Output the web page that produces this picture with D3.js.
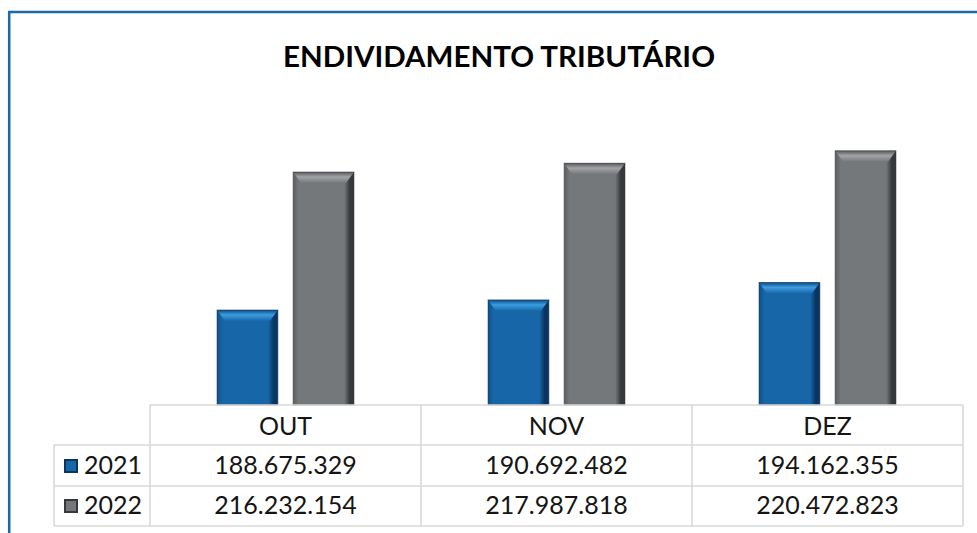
<!DOCTYPE html>
<html>
<head>
<meta charset="utf-8">
<script src="https://cdn.jsdelivr.net/npm/d3@7"></script>
<style>
  body { margin: 0; background: #fff; }
  svg { display: block; }
  text { font-family: Lato, "Open Sans", sans-serif; fill: #141414; }
</style>
</head>
<body>
<div id="chart"></div>
<script>
var months = ["OUT", "NOV", "DEZ"];
var series = ["2021", "2022"];
var values2021 = [188675329, 190692482, 194162355];
var values2022 = [216232154, 217987818, 220472823];
var labels2021 = ["188.675.329", "190.692.482", "194.162.355"];
var labels2022 = ["216.232.154", "217.987.818", "220.472.823"];

var width = 977, height = 533;

var svg = d3.select("#chart")
  .append("svg")
  .attr("width", width)
  .attr("height", height);

var defs = svg.append("defs");

// bevelled bar look: horizontal shading + lighter top facet
var colors = {
  "2021": {edgeL: "#0f4f88", body: "#1767a8", edgeR: "#0a3560", top: "#0e4a80", hi: "#3c9de2"},
  "2022": {edgeL: "#5c5f62", body: "#75787b", edgeR: "#36383b", top: "#55585a", hi: "#a2a4a6"}
};
series.forEach(function(s) {
  var c = colors[s];
  var g = defs.append("linearGradient").attr("id", "side" + s)
    .attr("x1", 0).attr("x2", 1).attr("y1", 0).attr("y2", 0);
  g.append("stop").attr("offset", 0).attr("stop-color", c.edgeL);
  g.append("stop").attr("offset", 0.09).attr("stop-color", c.body);
  g.append("stop").attr("offset", 0.84).attr("stop-color", c.body);
  g.append("stop").attr("offset", 0.93).attr("stop-color", c.edgeR);
  g.append("stop").attr("offset", 1).attr("stop-color", c.edgeR);
  var t = defs.append("linearGradient").attr("id", "top" + s)
    .attr("x1", 0).attr("x2", 0).attr("y1", 0).attr("y2", 1);
  t.append("stop").attr("offset", 0).attr("stop-color", c.top);
  t.append("stop").attr("offset", 0.45).attr("stop-color", c.hi);
  t.append("stop").attr("offset", 1).attr("stop-color", c.body);
});

// frame
svg.append("rect")
  .attr("x", 9.2).attr("y", 12)
  .attr("width", 1100).attr("height", 600)
  .attr("fill", "none")
  .attr("stroke", "#1a6aab")
  .attr("stroke-width", 2.5);

svg.append("text")
  .attr("x", 499).attr("y", 67)
  .attr("text-anchor", "middle")
  .attr("font-size", 28)
  .attr("font-weight", "bold")
  .attr("textLength", 432)
  .attr("lengthAdjust", "spacingAndGlyphs")
  .style("fill", "#000")
  .text("ENDIVIDAMENTO TRIBUTÁRIO");

// scales
var x = d3.scaleBand().domain(months).range([150, 963]);
var xs = d3.scaleBand().domain(series).range([67, x.bandwidth() - 67]).paddingInner(0.2);
var y = d3.scaleLinear().domain([169.7e6, 250e6]).range([405, 2.9]);

var barData = [];
months.forEach(function(m, i) {
  barData.push({month: m, s: "2021", v: values2021[i]});
  barData.push({month: m, s: "2022", v: values2022[i]});
});

var bars = svg.append("g").selectAll("g")
  .data(barData)
  .enter()
  .append("g")
  .attr("transform", function(d) { return "translate(" + (x(d.month) + xs(d.s)) + "," + y(d.v) + ")"; });

var bw = xs.bandwidth();
bars.append("rect")
  .attr("width", bw)
  .attr("height", function(d) { return y.range()[0] - y(d.v); })
  .attr("fill", function(d) { return "url(#side" + d.s + ")"; });

bars.append("path")
  .attr("d", "M0,0 L" + bw + ",0 L" + (bw - 8) + ",11 L8,11 Z")
  .attr("fill", function(d) { return "url(#top" + d.s + ")"; });

bars.append("rect")
  .attr("width", bw)
  .attr("height", function(d) { return y.range()[0] - y(d.v); })
  .attr("fill", "none")
  .attr("stroke", function(d) { return colors[d.s].edgeR; })
  .attr("stroke-opacity", 0.5)
  .attr("stroke-width", 1);

// data table
var rowTop = [405, 445, 486, 526];
var legendLeft = 54;
var grid = svg.append("g")
  .attr("stroke", "#d9d9d9")
  .attr("stroke-width", 1.6)
  .attr("fill", "none");

grid.append("line").attr("x1", 150).attr("x2", 963).attr("y1", rowTop[0]).attr("y2", rowTop[0]);
[1, 2, 3].forEach(function(r) {
  grid.append("line").attr("x1", legendLeft).attr("x2", 963).attr("y1", rowTop[r]).attr("y2", rowTop[r]);
});
grid.append("line").attr("x1", legendLeft).attr("x2", legendLeft).attr("y1", rowTop[1]).attr("y2", rowTop[3]);
months.forEach(function(m) {
  grid.append("line").attr("x1", x(m)).attr("x2", x(m)).attr("y1", rowTop[0]).attr("y2", rowTop[3]);
});
grid.append("line").attr("x1", 963).attr("x2", 963).attr("y1", rowTop[0]).attr("y2", rowTop[3]);

var tsize = 25;
svg.append("g").selectAll("text")
  .data(months)
  .enter()
  .append("text")
  .attr("x", function(d) { return x(d) + x.bandwidth() / 2; })
  .attr("y", 435)
  .attr("text-anchor", "middle")
  .attr("font-size", tsize)
  .text(function(d) { return d; });

[labels2021, labels2022].forEach(function(lab, r) {
  svg.append("g").selectAll("text")
    .data(lab)
    .enter()
    .append("text")
    .attr("x", function(d, i) { return x(months[i]) + x.bandwidth() / 2; })
    .attr("y", 474 + r * 40)
    .attr("text-anchor", "middle")
    .attr("font-size", tsize)
    .text(function(d) { return d; });
});

// legend keys
series.forEach(function(s, r) {
  var c = colors[s];
  var ky = 459 + r * 40;
  svg.append("rect").attr("x", 64).attr("y", ky).attr("width", 14).attr("height", 14)
    .attr("fill", c.edgeR);
  svg.append("rect").attr("x", 66).attr("y", ky + 2).attr("width", 10).attr("height", 10)
    .attr("fill", c.body);
  svg.append("text")
    .attr("x", 84).attr("y", 474 + r * 40)
    .attr("font-size", tsize)
    .text(s);
});
</script>
</body>
</html>
